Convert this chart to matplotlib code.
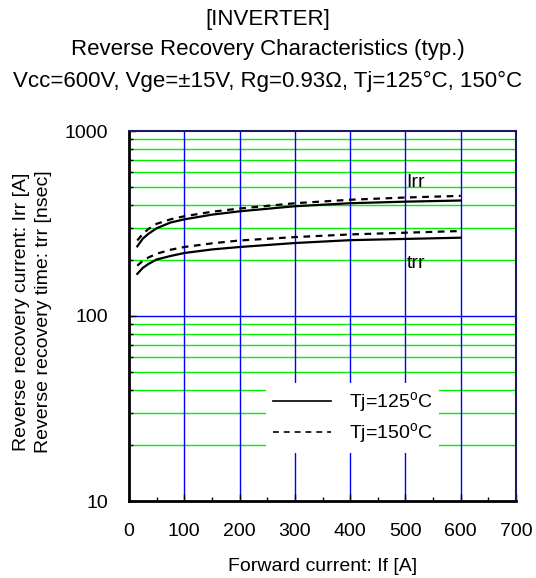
import numpy as num
import matplotlib
matplotlib.use("Agg")
import matplotlib.pyplot as plt
from matplotlib.ticker import FixedLocator, NullFormatter

# values
If_A = [15, 25, 35, 50, 75, 100, 150, 200, 300, 400, 500, 600]
Irr_125 = [238, 262, 278, 298, 320, 333, 353, 368, 392, 407, 415, 421]
Irr_150 = [256, 278, 295, 315, 333, 346, 366, 381, 407, 425, 437, 446]
trr_125 = [169, 182, 191, 202, 211, 219, 229, 236, 248, 257, 261, 265]
trr_150 = [187, 199, 207, 217, 228, 236, 247, 256, 267, 276, 282, 288]

x_ticks = [0, 100, 200, 300, 400, 500, 600, 700]
y_ticks = [10, 100, 1000]
legend_labels = ["Tj=125$^{\\mathrm{o}}$C", "Tj=150$^{\\mathrm{o}}$C"]


def main():
    plt.rcParams['font.family'] = ['Liberation Sans', 'DejaVu Sans']
    plt.rcParams['mathtext.fontset'] = 'custom'
    plt.rcParams['mathtext.rm'] = 'Liberation Sans'
    W, H = 536, 578
    fig = plt.figure(figsize=(W / 100, H / 100), dpi=100)
    ax = fig.add_axes([129 / W, 1 - 501 / H, 387 / W, 370 / H])

    ax.set_xlim(0, 700)
    ax.set_yscale('log')
    ax.set_ylim(10, 1000)

    # grid: green minor, blue major
    minors = [m * d for d in (10, 100) for m in range(2, 10)]
    for v in minors:
        ax.axhline(v, color='#00ee00', lw=1.0, zorder=1)
    ax.axhline(100, color='#0000ff', lw=1.0, zorder=1)
    for v in x_ticks[1:-1]:
        ax.axvline(v, color='#0000ff', lw=1.0, zorder=1)

    dash = (0, (3.0, 2.5))
    ax.plot(If_A, Irr_125, color='black', lw=1.6, zorder=3)
    ax.plot(If_A, Irr_150, color='black', lw=1.6, ls=dash, zorder=3)
    ax.plot(If_A, trr_125, color='black', lw=1.6, zorder=3)
    ax.plot(If_A, trr_150, color='black', lw=1.6, ls=dash, zorder=3)

    ax.text(502, 530, "Irr", fontsize=14, va='center', ha='left', zorder=4)
    ax.text(502, 193, "trr", fontsize=14, va='center', ha='left', zorder=4)

    # legend with dummy lines
    h1, = ax.plot([], [], color='black', lw=1.2)
    h2, = ax.plot([], [], color='black', lw=1.2, ls=(0, (3.5, 3)))
    leg = ax.legend([h1, h2], legend_labels, loc='upper left',
                    bbox_to_anchor=((266 - 129) / 387, (501 - 383) / 370),
                    frameon=True, fancybox=False,
                    edgecolor='none', facecolor='white', framealpha=1.0,
                    fontsize=14, handlelength=3.0, handletextpad=0.9,
                    labelspacing=0.35, borderpad=0.35, borderaxespad=0)
    leg.set_zorder(5)

    ax.set_xticks(x_ticks)
    ax.xaxis.set_minor_locator(FixedLocator(num.arange(50, 700, 100)))
    ax.yaxis.set_major_locator(FixedLocator(y_ticks))
    ax.yaxis.set_minor_locator(FixedLocator(minors))
    ax.yaxis.set_minor_formatter(NullFormatter())
    ax.set_yticklabels(["10", "100", "1000"])
    ax.tick_params(which='both', direction='in', labelsize=14, width=1.0)
    ax.tick_params(which='major', length=5)
    ax.tick_params(which='minor', length=3)
    ax.tick_params(axis='x', which='major', pad=16)
    ax.tick_params(axis='y', which='major', pad=15)
    ax.tick_params(top=False, right=False)

    for s in ['left', 'bottom']:
        ax.spines[s].set_linewidth(2.0)
        ax.spines[s].set_color('black')
    for s in ['top', 'right']:
        ax.spines[s].set_linewidth(1.5)
        ax.spines[s].set_color('#1a1a60')

    ax.set_xlabel("Forward current: If [A]", fontsize=14, labelpad=13)
    fig.text(32.5 / W, 1 - 312 / H,
             "Reverse recovery current: Irr [A]\nReverse recovery time: trr [nsec]",
             rotation=90, ha='center', va='center', fontsize=14, linespacing=1.4)

    fig.text(0.5, 1 - 19 / H, "[INVERTER]", ha='center', va='center', fontsize=16)
    fig.text(0.5, 1 - 50 / H, "Reverse Recovery Characteristics (typ.)",
             ha='center', va='center', fontsize=16)
    fig.text(0.5, 1 - 81 / H, "Vcc=600V, Vge=±15V, Rg=0.93Ω, Tj=125°C, 150°C",
             ha='center', va='center', fontsize=16)

    fig.savefig("out.png", dpi=100)


if __name__ == "__main__":
    main()
